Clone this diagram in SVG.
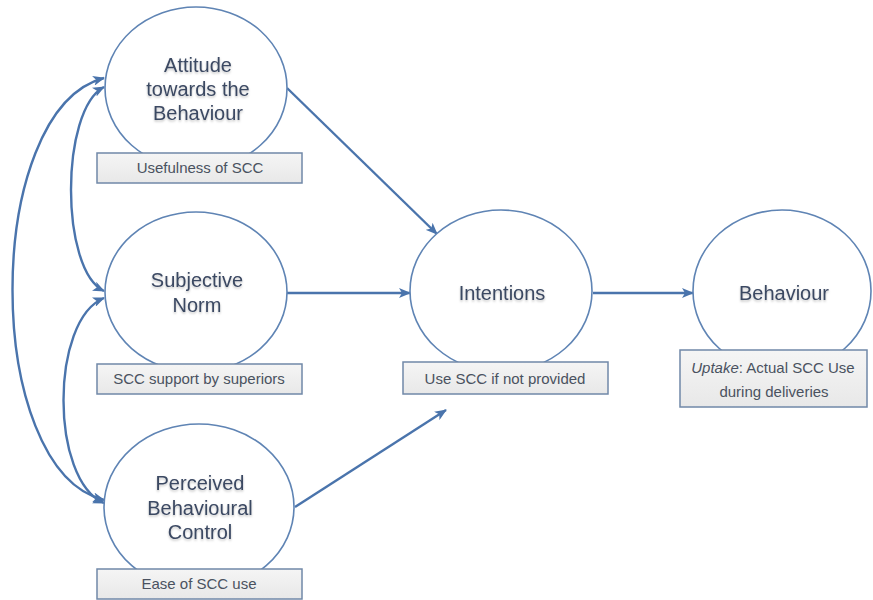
<svg xmlns="http://www.w3.org/2000/svg" width="873" height="600" viewBox="0 0 873 600">
<style>
.node ellipse{fill:#fff;stroke:#5f84b4;stroke-width:1.6}
.box{fill:url(#boxg);stroke:#7088a8;stroke-width:1.5}
.t{font-family:"Liberation Sans",Arial,sans-serif;font-size:20px;fill:#3b4862;text-anchor:middle;filter:url(#sh)}
.s{font-family:"Liberation Sans",Arial,sans-serif;font-size:15px;fill:#4a5260;text-anchor:middle}
.c{fill:none;stroke:#4a74ac;stroke-width:2.4}
</style>
<defs>
<linearGradient id="boxg" x1="0" y1="0" x2="0" y2="1"><stop offset="0" stop-color="#f5f5f5"/><stop offset="1" stop-color="#e8e8e8"/></linearGradient>
<filter id="sh" x="-10%" y="-20%" width="120%" height="160%"><feDropShadow dx="0" dy="1.5" stdDeviation="1" flood-color="#000" flood-opacity="0.25"/></filter>
<marker id="ah" viewBox="0 0 12 10" refX="11" refY="5" markerWidth="12" markerHeight="10" markerUnits="userSpaceOnUse" orient="auto-start-reverse">
<path d="M0,0 L12,5 L0,10 L3,5 z" fill="#4a74ac"/>
</marker>
</defs>
<g id="connectors">
<path class="c" d="M287,88 L437,234" marker-end="url(#ah)"/>
<path class="c" d="M287,293 L410,293" marker-end="url(#ah)"/>
<path class="c" d="M295,507 L446,410" marker-end="url(#ah)"/>
<path class="c" d="M593,293 L693,293" marker-end="url(#ah)"/>
<path class="c" d="M104,87 C60,110 60,270 104,291" marker-start="url(#ah)" marker-end="url(#ah)"/>
<path class="c" d="M104,298 C50,320 50,480 104,503" marker-start="url(#ah)" marker-end="url(#ah)"/>
<path class="c" d="M104,78 C-18,110 -18,470 104,500" marker-start="url(#ah)" marker-end="url(#ah)"/>
</g>
<g id="attitude" class="node">
<ellipse cx="196" cy="88" rx="91" ry="81"/>
<rect class="box" x="97" y="153" width="205" height="30"/>
<text class="t" x="198" y="72">Attitude</text>
<text class="t" x="198" y="96">towards the</text>
<text class="t" x="198" y="120">Behaviour</text>
<text class="s" x="200" y="173">Usefulness of SCC</text>
</g>
<g id="subjective" class="node">
<ellipse cx="196" cy="292" rx="91" ry="80"/>
<rect class="box" x="97" y="364" width="205" height="30"/>
<text class="t" x="197" y="287">Subjective</text>
<text class="t" x="197" y="312">Norm</text>
<text class="s" x="199" y="384">SCC support by superiors</text>
</g>
<g id="perceived" class="node">
<ellipse cx="199" cy="507" rx="95" ry="83"/>
<rect class="box" x="97" y="569" width="205" height="30"/>
<text class="t" x="200" y="490">Perceived</text>
<text class="t" x="200" y="515">Behavioural</text>
<text class="t" x="200" y="539">Control</text>
<text class="s" x="199" y="589">Ease of SCC use</text>
</g>
<g id="intentions" class="node">
<ellipse cx="501" cy="291" rx="91" ry="81"/>
<rect class="box" x="403" y="362" width="205" height="32"/>
<text class="t" x="502" y="300">Intentions</text>
<text class="s" x="505" y="384">Use SCC if not provided</text>
</g>
<g id="behaviour" class="node">
<ellipse cx="782" cy="291" rx="89" ry="81"/>
<rect class="box" x="680" y="350" width="187" height="57"/>
<text class="t" x="784" y="300">Behaviour</text>
<text class="s" x="773" y="373"><tspan font-style="italic">Uptake</tspan>: Actual SCC Use</text>
<text class="s" x="774" y="397">during deliveries</text>
</g>
</svg>
